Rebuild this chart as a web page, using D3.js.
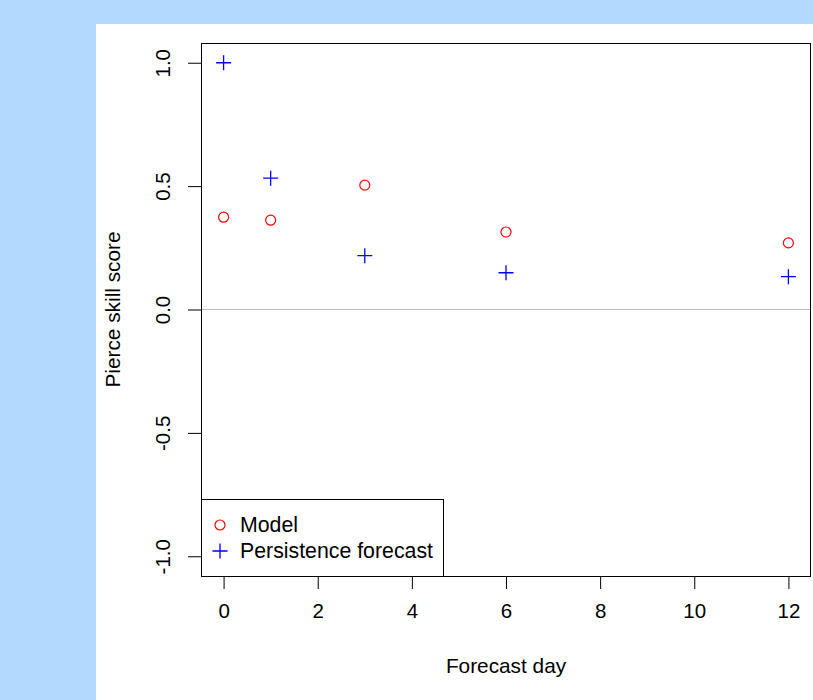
<!DOCTYPE html>
<html>
<head>
<meta charset="utf-8">
<script src="https://cdn.jsdelivr.net/npm/d3@7"></script>
<style>
  body { margin: 0; background: #b3d9ff; }
  svg { display: block; }
  text { font-family: "Liberation Sans", Arial, sans-serif; fill: #000; }
</style>
</head>
<body>
<svg id="chart" width="813" height="700"></svg>
<script>
// data
const forecastDays = [0, 1, 3, 6, 12];
const modelScore = [0.374, 0.362, 0.504, 0.314, 0.270];
const persistenceScore = [1.0, 0.532, 0.218, 0.149, 0.133];
const xTicks = [0, 2, 4, 6, 8, 10, 12];
const yTicks = [-1.0, -0.5, 0.0, 0.5, 1.0];
const legendLabels = ["Model", "Persistence forecast"];

function init() {
    chart();
}

function chart() {
    const svg = d3.select("#chart");
    const fontSize = 20.5;

    // page background + white panel
    svg.append("rect").attr("width", 813).attr("height", 700).attr("fill", "#b3d9ff");
    svg.append("rect").attr("x", 96).attr("y", 24).attr("width", 717).attr("height", 676).attr("fill", "#fff");

    const left = 201, right = 811, top = 43, bottom = 576;

    const x = d3.scaleLinear().domain([-0.48, 12.48]).range([left, right]);
    const y = d3.scaleLinear().domain([-1.08, 1.08]).range([bottom, top]);

    // zero reference line
    svg.append("line")
        .attr("x1", left).attr("x2", right)
        .attr("y1", y(0)).attr("y2", y(0))
        .attr("stroke", "#bebebe").attr("stroke-width", 1);

    // x axis
    const xAxis = svg.append("g")
        .attr("transform", "translate(0," + bottom + ")")
        .call(d3.axisBottom(x).tickValues(xTicks).tickSize(13).tickPadding(14).tickFormat(d3.format("d")));
    xAxis.select(".domain").remove();
    xAxis.selectAll("text").attr("font-size", fontSize).attr("font-family", null).attr("fill", "#000");
    xAxis.selectAll("line").attr("stroke", "#000");

    // y axis
    const yAxis = svg.append("g")
        .attr("transform", "translate(" + left + ",0)")
        .call(d3.axisLeft(y).tickValues(yTicks).tickSize(13).tickFormat(d3.format(".1f")));
    yAxis.select(".domain").remove();
    yAxis.selectAll("line").attr("stroke", "#000");
    yAxis.selectAll("text")
        .attr("font-size", fontSize)
        .attr("font-family", null)
        .attr("fill", "#000")
        .attr("x", null).attr("dy", null)
        .attr("text-anchor", "middle")
        .attr("transform", "translate(-31,0) rotate(-90)")
        .text(d => d3.format(".1f")(d).replace("−", "-"));

    // axis titles
    svg.append("text")
        .attr("x", (left + right) / 2)
        .attr("y", 673)
        .attr("text-anchor", "middle")
        .attr("font-size", 20.8)
        .text("Forecast day");

    svg.append("text")
        .attr("transform", "translate(120," + (top + bottom) / 2 + ") rotate(-90)")
        .attr("text-anchor", "middle")
        .attr("font-size", 20.8)
        .text("Pierce skill score");

    // plot box
    svg.append("rect")
        .attr("x", left + 0.5).attr("y", top + 0.5)
        .attr("width", right - left - 1).attr("height", bottom - top)
        .attr("fill", "none").attr("stroke", "#000");

    // points
    const crossPath = s => "M" + (-s) + ",0H" + s + "M0," + (-s) + "V" + s;

    svg.selectAll(".model")
        .data(forecastDays)
        .join("circle")
        .attr("class", "model")
        .attr("cx", d => x(d))
        .attr("cy", (d, i) => y(modelScore[i]))
        .attr("r", 5)
        .attr("fill", "none")
        .attr("stroke", "#ff0000")
        .attr("stroke-width", 1.2);

    svg.selectAll(".persist")
        .data(forecastDays)
        .join("path")
        .attr("class", "persist")
        .attr("transform", (d, i) => "translate(" + x(d) + "," + y(persistenceScore[i]) + ")")
        .attr("d", crossPath(7.5))
        .attr("stroke", "#0000ff")
        .attr("stroke-width", 1.3);

    // legend
    svg.append("rect")
        .attr("x", left + 0.5).attr("y", 499.5)
        .attr("width", 242).attr("height", bottom - 499)
        .attr("fill", "#fff").attr("stroke", "#000");

    const legendY = [525, 551];
    svg.append("circle")
        .attr("cx", 220).attr("cy", legendY[0]).attr("r", 5)
        .attr("fill", "none").attr("stroke", "#ff0000").attr("stroke-width", 1.2);
    svg.append("path")
        .attr("transform", "translate(220," + legendY[1] + ")")
        .attr("d", crossPath(7.5))
        .attr("stroke", "#0000ff").attr("stroke-width", 1.3);

    svg.selectAll(".legend-label")
        .data(legendLabels)
        .join("text")
        .attr("class", "legend-label")
        .attr("x", 240)
        .attr("y", (d, i) => legendY[i] + 7)
        .attr("font-size", 21.3)
        .text(d => d);
}

window.onload = init;
</script>
</body>
</html>
